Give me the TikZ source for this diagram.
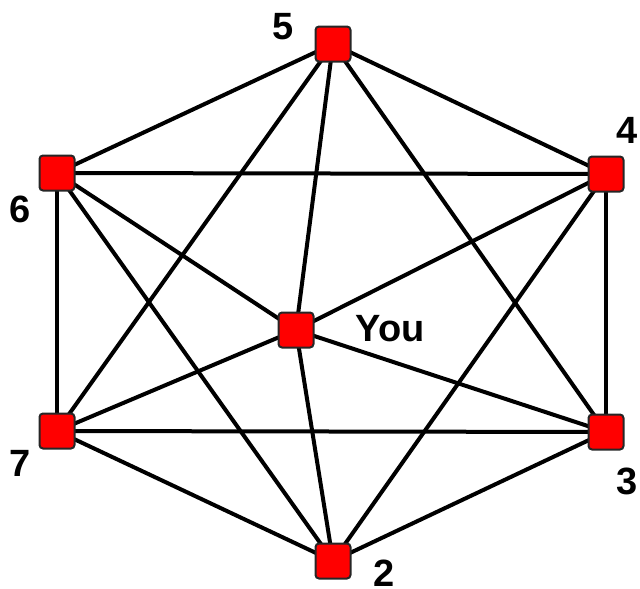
\documentclass[tikz,border=0pt]{standalone}
\usepackage{fontspec}
\setmainfont{Liberation Sans}
\begin{document}
\begin{tikzpicture}[x=1pt,y=-1pt,
  peer/.style={draw=black!85,line width=2pt,fill=red,rounded corners=3.5pt,minimum size=35pt,inner sep=0pt},
  lbl/.style={font=\fontsize{38}{40}\selectfont\bfseries,inner sep=0pt},
  edge/.style={line width=4pt,black}]
\useasboundingbox (0,0) rectangle (640,589);
\coordinate (c5) at (333,44);
\coordinate (c4) at (606,174);
\coordinate (c6) at (57,173);
\coordinate (cY) at (296,330);
\coordinate (c7) at (57,431);
\coordinate (c3) at (606,432);
\coordinate (c2) at (333,561);
\foreach \a/\b in {5/6,5/4,5/Y,5/7,5/3,6/4,6/7,6/Y,6/2,4/Y,4/3,4/2,7/Y,7/3,7/2,3/Y,3/2,2/Y}
  \draw[edge] (c\a) -- (c\b);
\node[peer] (n5) at (c5) {};
\node[peer] (n4) at (c4) {};
\node[peer] (n6) at (c6) {};
\node[peer] (nY) at (cY) {};
\node[peer] (n7) at (c7) {};
\node[peer] (n3) at (c3) {};
\node[peer] (n2) at (c2) {};
\node[lbl] (l5) at (283,27) {5};
\node[lbl] (l4) at (627,130) {4};
\node[lbl] (l6) at (20,209) {6};
\node[lbl] (lY) at (390,329) {You};
\node[lbl] (l7) at (20,463) {7};
\node[lbl] (l3) at (627,481) {3};
\node[lbl] (l2) at (384,573) {2};
\end{tikzpicture}
\end{document}
